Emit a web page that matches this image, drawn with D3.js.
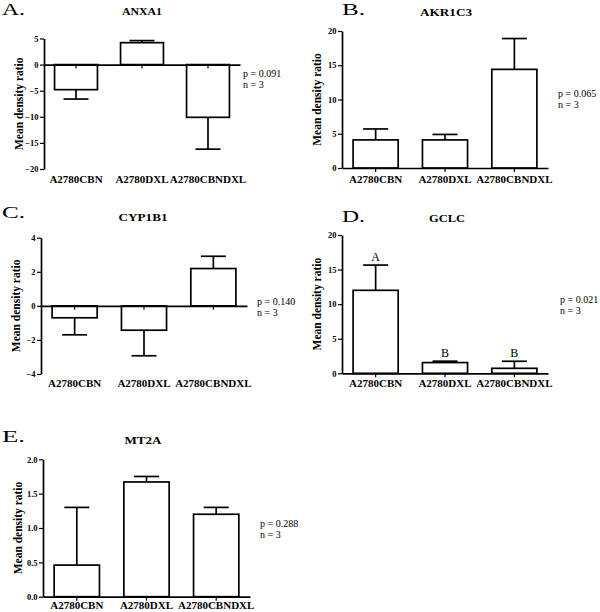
<!DOCTYPE html>
<html>
<head>
<meta charset="utf-8">
<script src="https://cdn.jsdelivr.net/npm/d3@7"></script>
<style>
  html, body { margin: 0; padding: 0; background: #fff; }
  svg { display: block; }
</style>
</head>
<body>
<svg id="chart" width="600" height="612" font-family="'Liberation Serif', 'Times New Roman', 'DejaVu Serif', serif"></svg>
<script>
// ---------- data ----------
const categories = ["A2780CBN", "A2780DXL", "A2780CBNDXL"];
const panelLetters = ["A.", "B.", "C.", "D.", "E."];
const genes = ["ANXA1", "AKR1C3", "CYP1B1", "GCLC", "MT2A"];

const anxa1Mean = [-4.8, 4.2, -10.1];
const anxa1Err = [1.8, 0.4, 6.1];
const akr1c3Mean = [4.1, 4.1, 14.4];
const akr1c3Err = [1.6, 0.8, 4.5];
const cyp1b1Mean = [-0.70, -1.43, 2.19];
const cyp1b1Err = [1.0, 1.5, 0.72];
const gclcMean = [12.0, 1.55, 0.72];
const gclcErr = [3.65, 0.2, 1.02];
const mt2aMean = [0.46, 1.67, 1.20];
const mt2aErr = [0.84, 0.08, 0.10];

const pValues = ["0.091", "0.065", "0.140", "0.021", "0.288"];
const nValues = [3, 3, 3, 3, 3];
const gclcGroups = ["A", "B", "B"];

const anxa1Ticks = [-20, -15, -10, -5, 0, 5];
const akr1c3Ticks = [0, 5, 10, 15, 20];
const cyp1b1Ticks = [-4, -2, 0, 2, 4];
const gclcTicks = [0, 5, 10, 15, 20];
const mt2aTicks = [0, 0.5, 1.0, 1.5, 2.0];

// ---------- layout ----------
const FONT = "'Liberation Serif', 'Times New Roman', 'DejaVu Serif', serif";
const panels = [
  { mean: anxa1Mean, err: anxa1Err, ticks: anxa1Ticks, fmt: d3.format("d"),
    x0: 44, x1: 240, yTop: 38.5, yBot: 169, letterX: 2, letterY: 15,
    titleX: 142, titleY: 15, titleW: 40, labelDy: 13.5, pX: 243, pY: 76.5 },
  { mean: akr1c3Mean, err: akr1c3Err, ticks: akr1c3Ticks, fmt: d3.format("d"),
    x0: 342, x1: 548, yTop: 31, yBot: 168, letterX: 342, letterY: 15,
    titleX: 446, titleY: 16, titleW: 52, labelDy: 14.5, pX: 558, pY: 97 },
  { mean: cyp1b1Mean, err: cyp1b1Err, ticks: cyp1b1Ticks, fmt: d3.format("d"),
    x0: 41, x1: 247, yTop: 237.7, yBot: 374, letterX: 2, letterY: 218,
    titleX: 143, titleY: 221, titleW: 49, labelDy: 13, pX: 257, pY: 305 },
  { mean: gclcMean, err: gclcErr, ticks: gclcTicks, fmt: d3.format("d"),
    x0: 342, x1: 548, yTop: 235, yBot: 373.3, letterX: 342, letterY: 222,
    titleX: 447, titleY: 222, titleW: 36, labelDy: 14, pX: 560, pY: 303,
    groups: gclcGroups },
  { mean: mt2aMean, err: mt2aErr, ticks: mt2aTicks, fmt: d3.format(".1f"),
    x0: 43, x1: 250, yTop: 459.3, yBot: 596.7, letterX: 2, letterY: 442,
    titleX: 143, titleY: 444, titleW: 37, labelDy: 12.5, pX: 260, pY: 527 }
];

const svg = d3.select("#chart");
const SW = 1.7;
const capHalf = 12.5;

panels.forEach((p, i) => {
  const g = svg.append("g");
  const y = d3.scaleLinear()
    .domain(d3.extent(p.ticks))
    .range([p.yBot, p.yTop]);
  const x = d3.scaleBand()
    .domain(categories)
    .range([p.x0, p.x1])
    .paddingInner(0.35)
    .paddingOuter(0.16);
  const rows = categories.map((c, k) => ({ c, m: p.mean[k], e: p.err[k], k }));

  // bars
  g.selectAll("rect.bar").data(rows).join("rect")
    .attr("class", "bar")
    .attr("x", d => x(d.c))
    .attr("width", x.bandwidth())
    .attr("y", d => y(Math.max(0, d.m)))
    .attr("height", d => Math.abs(y(d.m) - y(0)))
    .attr("fill", "#fff")
    .attr("stroke", "#000")
    .attr("stroke-width", SW);

  // error bars (away from zero)
  const errEnd = d => d.m >= 0 ? d.m + d.e : d.m - d.e;
  g.selectAll("line.err").data(rows).join("line")
    .attr("x1", d => x(d.c) + x.bandwidth() / 2)
    .attr("x2", d => x(d.c) + x.bandwidth() / 2)
    .attr("y1", d => y(d.m))
    .attr("y2", d => y(errEnd(d)))
    .attr("stroke", "#000").attr("stroke-width", SW);
  g.selectAll("line.cap").data(rows).join("line")
    .attr("x1", d => x(d.c) + x.bandwidth() / 2 - capHalf)
    .attr("x2", d => x(d.c) + x.bandwidth() / 2 + capHalf)
    .attr("y1", d => y(errEnd(d)))
    .attr("y2", d => y(errEnd(d)))
    .attr("stroke", "#000").attr("stroke-width", SW);

  // y axis
  const ya = g.append("g")
    .attr("transform", `translate(${p.x0},0)`)
    .call(d3.axisLeft(y).tickValues(p.ticks).tickFormat(p.fmt)
      .tickSize(4).tickSizeOuter(0).tickPadding(1.5));
  ya.attr("font-family", FONT).attr("font-size", 8.5);
  ya.select(".domain").attr("stroke-width", SW);
  ya.selectAll(".tick line").attr("stroke-width", 1.2);
  ya.selectAll(".tick text")
    .attr("font-family", FONT)
    .attr("font-size", 8.5)
    .attr("font-weight", "bold");

  // x axis on zero line
  const xa = g.append("g")
    .attr("transform", `translate(0,${y(0)})`)
    .call(d3.axisBottom(x).tickSize(4).tickSizeOuter(0).tickFormat(""));
  xa.select(".domain").attr("stroke-width", SW);
  xa.selectAll(".tick line").attr("stroke-width", 1.2);

  // category labels
  g.selectAll("text.cat").data(categories).join("text")
    .attr("class", "cat")
    .attr("x", c => x(c) + x.bandwidth() / 2)
    .attr("y", p.yBot + p.labelDy)
    .attr("text-anchor", "middle")
    .attr("font-family", FONT)
    .attr("font-size", 11)
    .attr("font-weight", "bold")
    .text(c => c);

  // y axis title
  g.append("text")
    .attr("transform", `translate(${p.x0 - 21},${(p.yTop + p.yBot) / 2}) rotate(-90)`)
    .attr("text-anchor", "middle")
    .attr("font-family", FONT)
    .attr("font-size", 11.5)
    .attr("font-weight", "bold")
    .text("Mean density ratio");

  // panel letter
  g.append("text")
    .attr("x", p.letterX).attr("y", p.letterY)
    .attr("font-family", FONT)
    .attr("font-size", 16)
    .attr("textLength", 23).attr("lengthAdjust", "spacingAndGlyphs")
    .text(panelLetters[i]);

  // gene title
  g.append("text")
    .attr("x", p.titleX - p.titleW / 2).attr("y", p.titleY)
    .attr("font-family", FONT)
    .attr("font-size", 10)
    .attr("font-weight", "bold")
    .attr("textLength", p.titleW).attr("lengthAdjust", "spacingAndGlyphs")
    .text(genes[i]);

  // p / n
  g.append("text").attr("x", p.pX).attr("y", p.pY)
    .attr("font-family", FONT)
    .attr("font-size", 10).text(`p = ${pValues[i]}`);
  g.append("text").attr("x", p.pX).attr("y", p.pY + 11)
    .attr("font-family", FONT)
    .attr("font-size", 10).text(`n = ${nValues[i]}`);

  // group letters
  if (p.groups) {
    g.selectAll("text.grp").data(rows).join("text")
      .attr("class", "grp")
      .attr("x", d => x(d.c) + x.bandwidth() / 2)
      .attr("y", d => y(errEnd(d)) - 4.5)
      .attr("text-anchor", "middle")
      .attr("font-family", FONT)
      .attr("font-size", 12)
      .text(d => p.groups[d.k]);
  }
});
</script>
</body>
</html>
